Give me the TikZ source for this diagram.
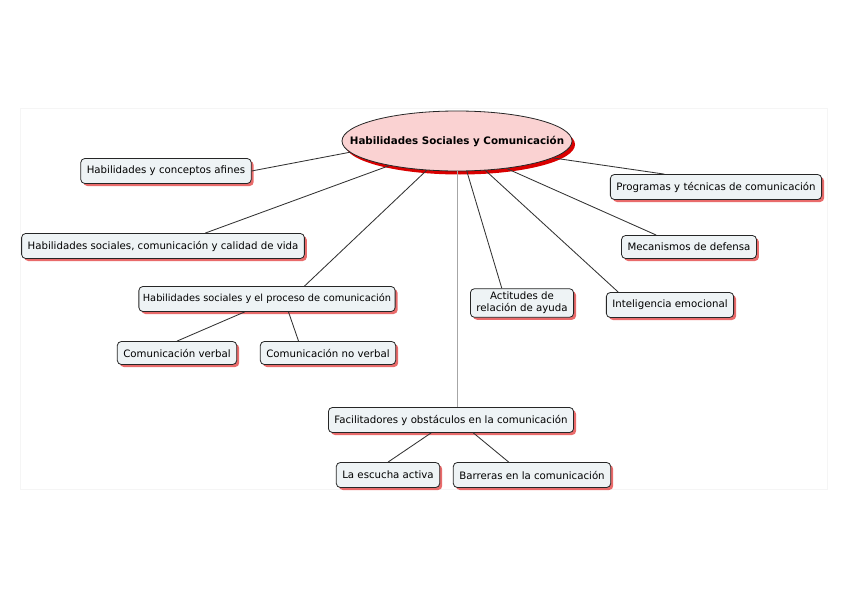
\documentclass[tikz,border=0pt]{standalone}
\usepackage{fontspec}
\setmainfont{DejaVu Sans}
\usetikzlibrary{shapes.geometric,shadows}
\definecolor{boxfill}{HTML}{EEF3F5}
\definecolor{rootfill}{HTML}{FAD2D2}
\definecolor{shadowred}{HTML}{E23A3A}
\begin{document}
\begin{tikzpicture}[x=1pt, y=-1pt,
    box/.style={draw=black!85, line width=0.8pt, fill=boxfill, rounded corners=4pt,
      font=\fontsize{10.2}{12}\selectfont, inner xsep=6pt, minimum height=25pt,
      drop shadow={fill=shadowred, opacity=0.75, shadow xshift=2.5pt, shadow yshift=-2.5pt}},
    root/.style={ellipse, draw=black!85, line width=0.8pt, fill=rootfill,
      font=\bfseries\fontsize{10.3}{12}\selectfont, minimum width=230pt, minimum height=60pt,
      inner xsep=-40pt, inner ysep=0pt,
      drop shadow={fill=red!85!black, opacity=1, shadow xshift=3pt, shadow yshift=-3.5pt}},
    link/.style={draw=black!80, line width=0.85pt}]
    \useasboundingbox (0,0) rectangle (848,599);
    \draw[black!4] (20,108) rectangle (827,489);

    \node[root] (hs) at (457,141) {Habilidades Sociales y Comunicación};

    \node[box] (afines) at (166,171) {Habilidades y conceptos afines};
    \node[box] (calidad) at (163,246) {Habilidades sociales, comunicación y calidad de vida};
    \node[box, font=\fontsize{9.8}{11}\selectfont, inner xsep=4pt] (proceso) at (267,299) {Habilidades sociales y el proceso de comunicación};
    \node[box, minimum height=23pt] (verbal) at (177,353) {Comunicación verbal};
    \node[box, minimum height=23pt] (noverbal) at (328,353) {Comunicación no verbal};
    \node[box, align=center, font=\fontsize{10.2}{12}\selectfont] (ayuda) at (522,303) {Actitudes de\\relación de ayuda};
    \node[box] (programas) at (716,187) {Programas y técnicas de comunicación};
    \node[box, minimum height=23pt] (defensa) at (689,247) {Mecanismos de defensa};
    \node[box] (emocional) at (670,305) {Inteligencia emocional};
    \node[box] (obstaculos) at (451,420) {Facilitadores y obstáculos en la comunicación};
    \node[box] (escucha) at (388,475) {La escucha activa};
    \node[box] (barreras) at (532,475) {Barreras en la comunicación};

    \draw[link] (hs.186) -- (afines.east);
    \draw[link] (hs.200) -- (calidad.17);
    \draw[link] (hs.224) -- (proceso.19);
    \draw[black!35, line width=0.8pt] (hs.south) -- (hs.south |- obstaculos.north);
    \draw[link] (hs.288) -- (ayuda.144);
    \draw[link] (hs.314) -- (emocional.166);
    \draw[link] (hs.331) -- (defensa.160);
    \draw[link] (hs.350) -- (programas.166);

    \draw[link] (proceso.210) -- (verbal.north);
    \draw[link] (proceso.329) -- (noverbal.158);
    \draw[link] (obstaculos.213) -- (escucha.north);
    \draw[link] (obstaculos.330) -- (barreras.151);
\end{tikzpicture}
\end{document}
